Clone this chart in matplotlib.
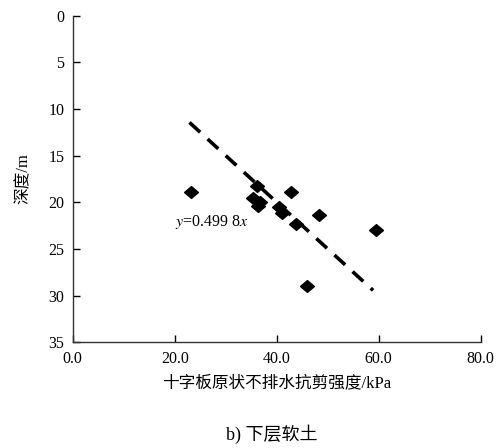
import numpy as np
import matplotlib
matplotlib.use('Agg')
import matplotlib.pyplot as plt

plt.rcParams['font.family'] = ['Liberation Serif', 'Noto Sans CJK SC']
plt.rcParams['mathtext.fontset'] = 'stix'

# strength (kPa) vs depth (m)
strength = [23.1, 36.2, 35.4, 36.8, 36.4, 40.4, 41.0, 42.9, 43.8, 48.2, 59.5, 46.0]
depth = [18.9, 18.2, 19.5, 20.0, 20.4, 20.5, 21.1, 18.9, 22.3, 21.4, 23.0, 29.0]

# fitted line y = 0.4998x
slope = 0.4998
fit_x = [22.9, 58.9]

xticks = [0, 20, 40, 60, 80]
yticks = [0, 5, 10, 15, 20, 25, 30, 35]

# slightly flattened diamond
diamond = [(-1, 0), (0, 0.85), (1, 0), (0, -0.85), (-1, 0)]

fig = plt.figure(figsize=(5.03, 4.48), dpi=100)
ax = fig.add_axes([0.1445, 0.236, 0.8112, 0.729])

ax.plot(strength, depth, linestyle='none', marker=diamond, color='black',
        markersize=10, zorder=3)
fx = np.array(fit_x)
ax.plot(fx, slope * fx, color='black', linewidth=2.6, dashes=(4, 2.8), zorder=2)
ax.text(20.1, 22.1, '$y$=0.499 8$x$', fontsize=11.5, va='center', ha='left')

ax.set_xlim(0, 80)
ax.set_ylim(35, 0)
ax.set_xticks(xticks)
ax.set_xticklabels(['%.1f' % t for t in xticks])
ax.set_yticks(yticks)
ax.tick_params(direction='in', length=5, width=1, labelsize=11.5, pad=6)
for s in ['top', 'right']:
    ax.spines[s].set_visible(False)
for s in ['left', 'bottom']:
    ax.spines[s].set_linewidth(1)
    ax.spines[s].set_color('#333333')

ax.set_xlabel('十字板原状不排水抗剪强度/kPa', fontsize=12, labelpad=6)
ax.set_ylabel('深度/m', fontsize=12, labelpad=12)
fig.text(0.54, 0.03, 'b) 下层软土', fontsize=13, ha='center', va='center')

fig.savefig('out.png', dpi=100)
